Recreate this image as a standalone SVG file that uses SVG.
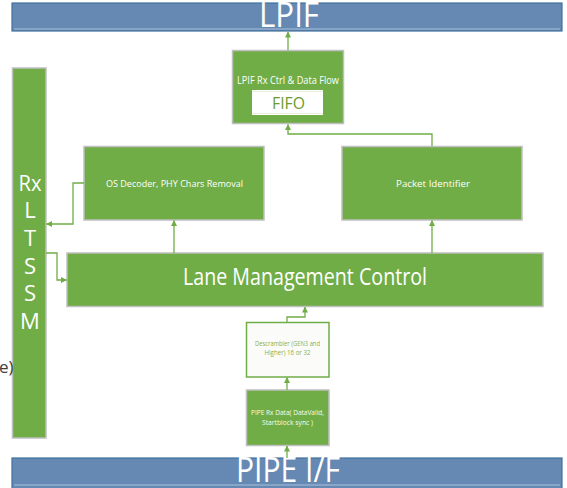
<svg xmlns="http://www.w3.org/2000/svg" width="567" height="488" viewBox="0 0 567 488">
<defs>
<marker id="ah" viewBox="0 0 6 6" refX="5.5" refY="3" markerWidth="6" markerHeight="6" markerUnits="userSpaceOnUse" orient="auto">
<path d="M0,0 L6,3 L0,6 z" fill="#70AD47"/>
</marker>
<style>
.bar{fill:#6589B3;stroke:#41719C;stroke-width:1.2}
.barin{fill:none;stroke:#A9C1DC;stroke-width:1}
.box{fill:#70AD47;stroke:#BFBFBF;stroke-width:1.5}
.t{font-family:"Open Sans","Liberation Sans",sans-serif;fill:#FFFFFF;text-anchor:middle}
.lt{font-family:"Open Sans","Liberation Sans",sans-serif;fill:#FFFFFF;text-anchor:middle;font-size:22px}
.ca{fill:none;stroke:#70AD47;stroke-width:1.3;marker-end:url(#ah)}
</style>
</defs>

<g id="lpif-bar">
<rect class="bar" x="12" y="3" width="550" height="28"/>
<line class="barin" x1="14" y1="29" x2="560" y2="29"/>
<text class="t" x="289" y="27" font-size="34" textLength="60" lengthAdjust="spacingAndGlyphs">LPIF</text>
</g>

<g id="pipe-bar">
<rect class="bar" x="12" y="458" width="550" height="32"/>
<line class="barin" x1="14" y1="485" x2="560" y2="485"/>
<text class="t" x="288" y="482" font-size="34" textLength="104" lengthAdjust="spacingAndGlyphs">PIPE I/F</text>
</g>

<g id="rx-ltssm">
<rect class="box" x="12.5" y="68" width="33.5" height="370"/>
<text class="lt" x="30" y="191" textLength="23" lengthAdjust="spacingAndGlyphs">Rx</text>
<text class="lt" x="30" y="218">L</text>
<text class="lt" x="30" y="246">T</text>
<text class="lt" x="30" y="274">S</text>
<text class="lt" x="30" y="301">S</text>
<text class="lt" x="30" y="329">M</text>
</g>

<g id="lpif-rx-ctrl">
<rect class="box" x="232.5" y="50.5" width="111" height="73"/>
<text class="t" x="288" y="84" font-size="10" textLength="102" lengthAdjust="spacingAndGlyphs">LPIF Rx Ctrl &amp; Data Flow</text>
<rect x="252" y="90" width="71" height="25" fill="#FFFFFF"/>
<line x1="252" y1="91.5" x2="323" y2="91.5" stroke="#E8F0E0" stroke-width="1"/>
<line x1="252" y1="113.5" x2="323" y2="113.5" stroke="#E8F0E0" stroke-width="1"/>
<text class="t" x="288.5" y="109" font-size="17" style="fill:#6E9B2E" textLength="33" lengthAdjust="spacingAndGlyphs">FIFO</text>
</g>

<g id="os-decoder">
<rect class="box" x="84" y="146.5" width="180" height="73.5"/>
<text class="t" x="174.5" y="186.5" font-size="9.5" textLength="137" lengthAdjust="spacingAndGlyphs">OS Decoder, PHY Chars Removal</text>
</g>

<g id="packet-identifier">
<rect class="box" x="342" y="146.5" width="180" height="73.5"/>
<text class="t" x="433" y="186.5" font-size="9.5" textLength="74" lengthAdjust="spacingAndGlyphs">Packet Identifier</text>
</g>

<g id="lane-management">
<rect class="box" x="67" y="253" width="476" height="53.5"/>
<text class="t" x="305" y="285" font-size="23" textLength="244" lengthAdjust="spacingAndGlyphs">Lane Management Control</text>
</g>

<g id="descrambler">
<rect x="246.5" y="322.5" width="82.5" height="54.5" fill="#FBFCFA" stroke="#70AD47" stroke-width="1.5"/>
<text class="t" x="287.5" y="346" font-size="7.5" style="fill:#8DAE3C" textLength="65" lengthAdjust="spacingAndGlyphs">Descrambler (GEN3 and</text>
<text class="t" x="287.5" y="355" font-size="7.5" style="fill:#8DAE3C" textLength="46" lengthAdjust="spacingAndGlyphs">Higher) 16 or 32</text>
</g>

<g id="pipe-rx-data">
<rect class="box" x="246.5" y="390" width="82.5" height="55.5"/>
<text class="t" x="287.5" y="415" font-size="7.5" style="fill:#FBFBE8" textLength="73" lengthAdjust="spacingAndGlyphs">PIPE Rx Data( DataValid,</text>
<text class="t" x="287.5" y="424.5" font-size="7.5" style="fill:#FBFBE8" textLength="51" lengthAdjust="spacingAndGlyphs">Startblock sync )</text>
</g>

<g id="connectors">
<path class="ca" d="M288,50 V32"/>
<path class="ca" d="M432,146 V134 H288 V124.5"/>
<path class="ca" d="M174,253 V220.5"/>
<path class="ca" d="M432,253 V220.5"/>
<path class="ca" d="M84,183 H73 V224 H46.5"/>
<path class="ca" d="M46,253 H57 V280 H66.5"/>
<path class="ca" d="M287,322 V317 H305 V307"/>
<path class="ca" d="M287,390 V377.5"/>
<path class="ca" d="M287,458 V446"/>
</g>

<text x="-1" y="373" font-family="Open Sans, Liberation Sans, sans-serif" font-size="17" fill="#404040">e)</text>
</svg>
